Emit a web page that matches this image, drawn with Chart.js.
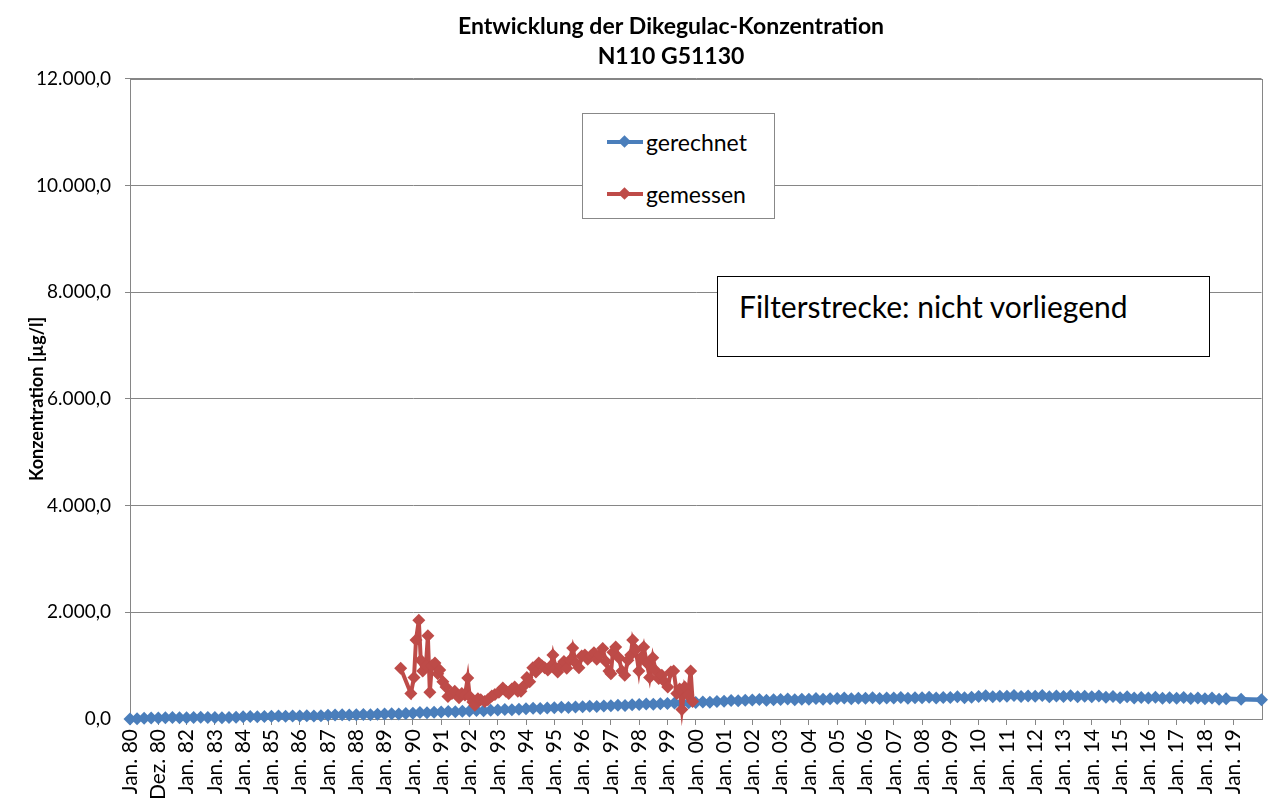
<!DOCTYPE html>
<html>
<head>
<meta charset="utf-8">
<script src="https://cdn.jsdelivr.net/npm/chart.js@4.4.1/dist/chart.umd.min.js"></script>
<style>
  body { margin: 0; background: #fff; overflow: hidden; font-family: Lato, sans-serif; }
  #wrap { position: relative; width: 1268px; height: 809px; }
  #legend { position: absolute; left: 582px; top: 113px; width: 191px; height: 104px; border: 1px solid #888; background: #fff; }
  .item { position: absolute; left: 0; width: 190px; height: 28px; }
  .item .ln { position: absolute; left: 24px; top: 12px; width: 36px; height: 4px; }
  .item .dm { position: absolute; left: 37px; top: 9px; width: 9px; height: 9px; transform: rotate(45deg); }
  .item .tx { position: absolute; left: 63px; top: 0; font-size: 23px; line-height: 28px; color: #000; }
  #note { position: absolute; left: 717px; top: 276px; width: 491px; height: 79px; border: 1px solid #000; background: #fff; }
  #note span { position: absolute; left: 21px; top: 11px; font-size: 30px; line-height: 36px; color: #000; }
</style>
</head>
<body>
<div id="wrap">
  <canvas id="chart"></canvas>
  <div id="legend">
    <div class="item" style="top:14px"><span class="ln" style="background:#4a7ebb"></span><span class="dm" style="background:#4a7ebb"></span><span class="tx">gerechnet</span></div>
    <div class="item" style="top:66px"><span class="ln" style="background:#be4b48"></span><span class="dm" style="background:#be4b48"></span><span class="tx">gemessen</span></div>
  </div>
  <div id="note"><span>Filterstrecke: nicht vorliegend</span></div>
</div>
<script>
// x axis labels, one per year starting Jan 1980
const tickLabels = ['Jan. 80', 'Dez. 80', 'Jan. 82', 'Jan. 83', 'Jan. 84', 'Jan. 85', 'Jan. 86', 'Jan. 87',
  'Jan. 88', 'Jan. 89', 'Jan. 90', 'Jan. 91', 'Jan. 92', 'Jan. 93', 'Jan. 94', 'Jan. 95', 'Jan. 96',
  'Jan. 97', 'Jan. 98', 'Jan. 99', 'Jan. 00', 'Jan. 01', 'Jan. 02', 'Jan. 03', 'Jan. 04', 'Jan. 05',
  'Jan. 06', 'Jan. 07', 'Jan. 08', 'Jan. 09', 'Jan. 10', 'Jan. 11', 'Jan. 12', 'Jan. 13', 'Jan. 14',
  'Jan. 15', 'Jan. 16', 'Jan. 17', 'Jan. 18', 'Jan. 19'];
const firstYear = 1980;

// gerechnet: quarterly values 1980 - 2018, then the last two points
const blueValues = [
  0, 5, 15, 20,      20, 25, 30, 25,      25, 30, 35, 30,      30, 25, 30, 35,
  40, 45, 40, 45,    50, 55, 50, 55,      55, 60, 55, 60,      70, 75, 80, 75,
  80, 85, 80, 90,    95, 100, 95, 105,    110, 120, 115, 125,  130, 140, 135, 145,
  150, 160, 155, 165, 170, 180, 175, 185, 190, 200, 195, 205,  210, 220, 215, 225,
  230, 240, 235, 245, 250, 260, 255, 265, 270, 280, 275, 285,  290, 300, 295, 305,
  310, 320, 315, 330, 335, 345, 340, 350, 355, 365, 350, 360,  365, 375, 360, 370,
  370, 385, 370, 380, 385, 395, 380, 390, 390, 400, 385, 395,  395, 405, 390, 400,
  400, 410, 395, 405, 405, 415, 400, 410, 420, 435, 415, 425,  425, 440, 420, 430,
  425, 440, 415, 430, 420, 435, 415, 425, 415, 430, 410, 420,  400, 415, 395, 405,
  395, 410, 390, 400, 390, 405, 385, 395, 380, 395, 370, 380
];
const blueTailYears = [2019.28, 2020.0];
const blueTailValues = [370, 360];

// gemessen
const redYears = [
  1989.57, 1989.93, 1990.04, 1990.11, 1990.21, 1990.28, 1990.35, 1990.46, 1990.53, 1990.60,
  1990.67, 1990.78, 1990.88, 1990.95, 1991.06, 1991.17, 1991.24, 1991.38, 1991.48, 1991.63,
  1991.73, 1991.84, 1991.94, 1992.01, 1992.12, 1992.19, 1992.30, 1992.40, 1992.54, 1992.65,
  1992.79, 1992.90, 1993.04, 1993.18, 1993.29, 1993.39, 1993.50, 1993.60, 1993.71, 1993.82,
  1993.92, 1994.03, 1994.13, 1994.24, 1994.35, 1994.45, 1994.56, 1994.66, 1994.77, 1994.88,
  1994.95, 1995.05, 1995.12, 1995.23, 1995.34, 1995.44, 1995.55, 1995.65, 1995.76, 1995.87,
  1995.97, 1996.08, 1996.18, 1996.29, 1996.40, 1996.50, 1996.61, 1996.71, 1996.82, 1996.93,
  1997.00, 1997.07, 1997.17, 1997.28, 1997.39, 1997.49, 1997.60, 1997.70, 1997.77, 1997.88,
  1997.99, 1998.06, 1998.16, 1998.27, 1998.37, 1998.48, 1998.59, 1998.69, 1998.80, 1998.90,
  1999.01, 1999.12, 1999.22, 1999.33, 1999.43, 1999.51, 1999.61, 1999.72, 1999.82, 1999.89
];
const redValues = [
  950, 480, 780, 1480, 1850, 1100, 900, 1000, 1560, 500,
  1000, 1050, 850, 920, 700, 600, 420, 480, 520, 400,
  480, 450, 770, 420, 320, 260, 380, 360, 330, 360,
  430, 460, 500, 580, 520, 480, 560, 600, 520, 520,
  620, 780, 700, 960, 880, 1050, 1000, 960, 920, 1000,
  1200, 950, 880, 1000, 1080, 950, 1100, 1330, 1050, 960,
  1180, 1200, 1120, 1180, 1240, 1120, 1200, 1320, 1080, 900,
  850, 1250, 1350, 1150, 900, 820, 1100, 1200, 1480, 1300,
  900, 1150, 1350, 1050, 780, 1150, 900, 760, 820, 700,
  600, 880, 900, 480, 560, 180, 600, 450, 900, 330
];

const yMax = 12000;
const yStep = 2000;

const bluePoints = blueValues.map((v, i) => ({ x: firstYear + i / 4, y: v }))
  .concat(blueTailYears.map((x, i) => ({ x: x, y: blueTailValues[i] })));
const redPoints = redYears.map((x, i) => ({ x: x, y: redValues[i] }));

function deNum(v) {
  const p = v.toFixed(1).split('.');
  return p[0].replace(/\B(?=(\d{3})+(?!\d))/g, '.') + ',' + p[1];
}

// plot area border + title centred like the original
const frame = {
  id: 'frame',
  afterLayout(chart) {
    const t = chart.titleBlock;
    if (t) { t.left = 74; t.right = 1268; t.width = t.right - t.left; }
  },
  beforeDatasetsDraw(chart) {
    const { ctx, chartArea: a } = chart;
    ctx.save();
    ctx.strokeStyle = '#868686';
    ctx.lineWidth = 1;
    ctx.strokeRect(Math.round(a.left) + 0.5, Math.round(a.top) + 0.5, Math.round(a.right - a.left), Math.round(a.bottom - a.top));
    ctx.restore();
  }
};

Chart.defaults.font.family = 'Lato';
Chart.defaults.color = '#000';

const cv = document.getElementById('chart');
cv.width = 1268; cv.height = 809;
cv.style.width = '1268px'; cv.style.height = '809px';

new Chart(cv.getContext('2d'), {
  type: 'line',
  data: {
    datasets: [{
      label: 'gemessen',
      data: redPoints,
      borderColor: '#be4b48',
      backgroundColor: '#be4b48',
      borderWidth: 4,
      pointStyle: 'rectRot',
      pointRadius: 6.5,
      pointBorderWidth: 0,
      order: 0,
      clip: false
    }, {
      label: 'gerechnet',
      data: bluePoints,
      borderColor: '#4a7ebb',
      backgroundColor: '#4a7ebb',
      borderWidth: 4.5,
      pointStyle: 'rectRot',
      pointRadius: 6.5,
      pointBorderWidth: 0,
      order: 1,
      clip: false
    }]
  },
  options: {
    responsive: false,
    animation: false,
    layout: { padding: { left: 0, right: 6, top: 0, bottom: 0 } },
    plugins: {
      legend: { display: false },
      tooltip: { enabled: false },
      title: {
        display: true,
        text: ['Entwicklung der Dikegulac-Konzentration', 'N110 G51130'],
        font: { size: 23, weight: 'bold', lineHeight: 1.3 },
        padding: { top: 12, bottom: 7 },
        color: '#000'
      }
    },
    scales: {
      x: {
        type: 'linear',
        min: firstYear,
        max: firstYear + 40,
        afterBuildTicks: (axis) => { axis.ticks = tickLabels.map((l, i) => ({ value: firstYear + i })); },
        afterFit: (scale) => { scale.height = 90; },
        ticks: {
          autoSkip: false,
          minRotation: 90,
          maxRotation: 90,
          padding: 4,
          font: { size: 21 },
          callback: (v, i) => tickLabels[i]
        },
        grid: { drawOnChartArea: false, drawTicks: true, tickLength: 6, color: '#868686' },
        border: { color: '#868686' }
      },
      y: {
        min: 0,
        max: yMax,
        afterFit: (scale) => { scale.width = 130; },
        ticks: {
          stepSize: yStep,
          padding: 14,
          font: { size: 19 },
          callback: (v) => deNum(v)
        },
        grid: { color: '#868686', tickLength: 5 },
        border: { color: '#868686' },
        title: {
          display: true,
          text: 'Konzentration [µg/l]',
          font: { size: 18, weight: 'bold' },
          padding: { top: 26, bottom: 0 }
        }
      }
    }
  },
  plugins: [frame]
});
</script>
</body>
</html>
